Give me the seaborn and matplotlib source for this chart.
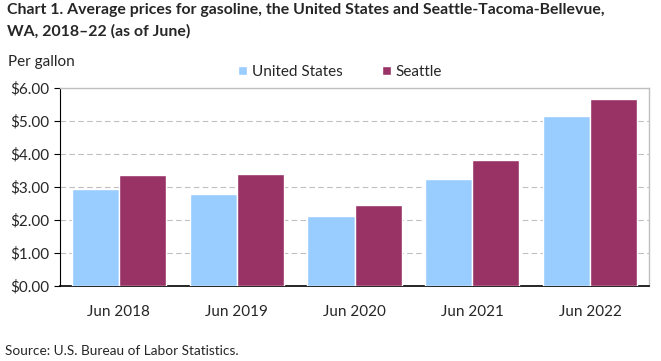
import matplotlib
matplotlib.use("Agg")
import matplotlib.pyplot as plt
import pandas as pd
import seaborn as sns
from matplotlib.ticker import FuncFormatter

# --- data ---
years = ["Jun 2018", "Jun 2019", "Jun 2020", "Jun 2021", "Jun 2022"]
us_prices = [2.94, 2.79, 2.12, 3.24, 5.16]
seattle_prices = [3.36, 3.39, 2.45, 3.82, 5.67]
series_names = ["United States", "Seattle"]
colors = ["#99CCFF", "#993366"]

df = pd.DataFrame({
    "year": years * 2,
    "price": us_prices + seattle_prices,
    "series": [series_names[0]] * len(years) + [series_names[1]] * len(years),
})

sns.set_style("white")
plt.rcParams["font.family"] = ["Lato", "DejaVu Sans"]

fig = plt.figure(figsize=(6.61, 3.61), dpi=100)
ax = fig.add_axes([60 / 661, 1 - 286 / 361, 589 / 661, 198 / 361])

sns.barplot(data=df, x="year", y="price", hue="series", palette=colors,
            width=0.8, saturation=1, ax=ax, zorder=3)

ax.set_ylim(0, 6)
ax.set_yticks([0, 1, 2, 3, 4, 5, 6])
ax.yaxis.set_major_formatter(FuncFormatter(lambda v, p: f"${v:.2f}"))
ax.set_xlabel("")
ax.set_ylabel("")
ax.yaxis.grid(True, color="#BFBFBF", linestyle=(0, (5, 3)), linewidth=0.8, zorder=0)
ax.tick_params(axis="y", left=True, length=4, width=0.8, color="black", labelsize=11, pad=4)
ax.tick_params(axis="x", bottom=False, labelsize=11, pad=10)

for side in ["top", "right"]:
    ax.spines[side].set_color("#BFBFBF")
    ax.spines[side].set_linewidth(1)
ax.spines["left"].set_color("black")
ax.spines["bottom"].set_color("black")
ax.spines["left"].set_linewidth(0.8)
ax.spines["bottom"].set_linewidth(1.2)

ax.legend(loc="center left", bbox_to_anchor=(224 / 661, 1 - 72 / 361),
          bbox_transform=fig.transFigure, ncol=2, frameon=False,
          fontsize=11, handlelength=0.6, handleheight=0.6, handletextpad=0.3,
          columnspacing=2.6)

fig.text(7 / 661, 1 - 3 / 361,
         "Chart 1. Average prices for gasoline, the United States and Seattle-Tacoma-Bellevue,\nWA, 2018\u201322 (as of June)",
         ha="left", va="top", fontsize=11.4, fontweight="bold", linespacing=1.65)
fig.text(8 / 661, 1 - 62 / 361, "Per gallon", ha="left", va="center", fontsize=11)
fig.text(5 / 661, 1 - 351 / 361, "Source: U.S. Bureau of Labor Statistics.", ha="left",
         va="center", fontsize=9.8)

fig.savefig("out.png", dpi=100, facecolor="white")
